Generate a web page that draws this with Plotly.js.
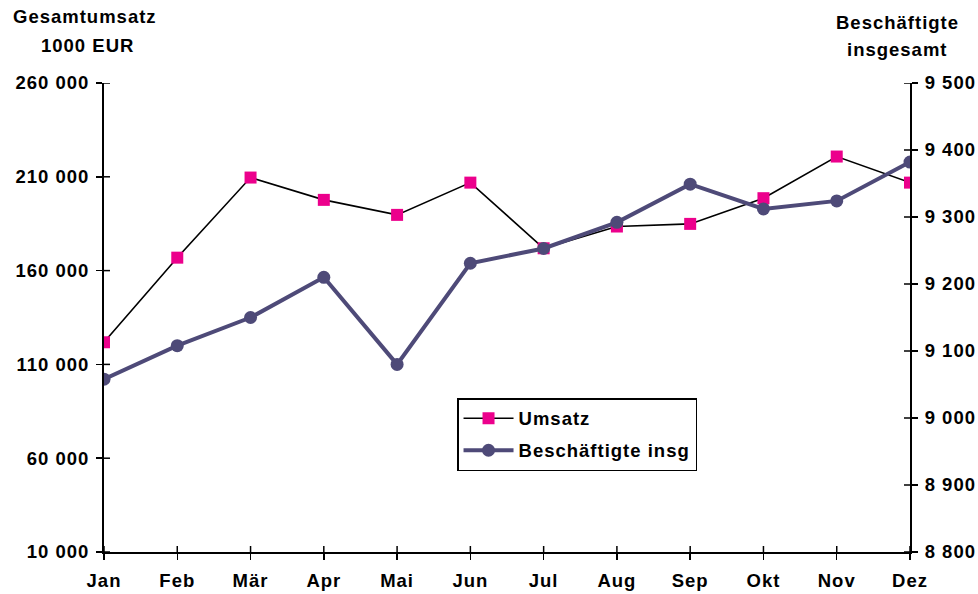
<!DOCTYPE html>
<html>
<head>
<meta charset="utf-8">
<script src="https://cdn.plot.ly/plotly-3.0.1.min.js"></script>
<style>
html,body{margin:0;padding:0;background:#fff;}
#chart{width:978px;height:594px;}
text{letter-spacing:1px;}
</style>
</head>
<body>
<div id="chart"></div>
<script>
const months = ["Jan","Feb","Mär","Apr","Mai","Jun","Jul","Aug","Sep","Okt","Nov","Dez"];
const umsatz = [121800,166900,209600,197700,189700,206900,171900,183500,184900,198600,220800,206900];
const beschaeftigte = [9058,9108,9150,9210,9080,9231,9253,9292,9349,9312,9324,9382];
const leftTicks = [10000,60000,110000,160000,210000,260000];
const rightTicks = [8800,8900,9000,9100,9200,9300,9400,9500];
const nameUmsatz = "Umsatz";
const nameBesch = "Beschäftigte insg";
const leftTitle = ["Gesamtumsatz", "1000 EUR"];
const rightTitle = ["Beschäftigte", "insgesamt"];

const F = {family: "Liberation Sans, Arial, sans-serif", size: 18.5, color: "#000", weight: 700};
const pink = "#EC008C";
const purple = "#4E4A78";

const traces = [
  {type:"scatter", mode:"lines+markers", name:nameUmsatz, x:months, y:umsatz,
   xaxis:"x", yaxis:"y", legendgroup:"a",
   line:{color:"#000", width:1.6},
   marker:{symbol:"square", size:12, color:pink, line:{width:0}}},
  {type:"scatter", mode:"lines+markers", name:nameBesch, x:months, y:beschaeftigte,
   xaxis:"x", yaxis:"y2", legendgroup:"b",
   line:{color:purple, width:4},
   marker:{symbol:"circle", size:13, color:purple}}
];

const axBase = {showgrid:false, zeroline:false, linecolor:"#000", linewidth:2, tickcolor:"#000", tickwidth:1.5, ticklen:6};

// inside halves of the crossing tick marks (6 px into the plot area)
const plotW = 978 - 104 - 68, plotH = 594 - 83 - 42;
const tx = 6 / plotW, ty = 6 / plotH;
const shapes = [];
const tk = {color:"#000", width:1.5};
months.forEach((m, i) => shapes.push({type:"line", xref:"x", yref:"paper", layer:"above",
  x0:i, x1:i, y0:0, y1:ty, line:tk}));
leftTicks.forEach(v => shapes.push({type:"line", xref:"paper", yref:"y", layer:"above",
  x0:0, x1:tx, y0:v, y1:v, line:tk}));
rightTicks.forEach(v => shapes.push({type:"line", xref:"paper", yref:"y2", layer:"above",
  x0:1 - tx, x1:1, y0:v, y1:v, line:tk}));

const layout = {
  width:978, height:594,
  margin:{l:104, r:68, t:83, b:42},
  paper_bgcolor:"#fff", plot_bgcolor:"#fff",
  separators:", ",
  font:F,
  showlegend:true,
  legend:{x:0.438, y:0.328, xanchor:"left", yanchor:"top", bordercolor:"#000", borderwidth:1.5,
          bgcolor:"#fff", font:F, traceorder:"grouped", tracegroupgap:5, itemwidth:50},
  xaxis:Object.assign({}, axBase, {type:"category", range:[0,11], ticks:"outside", showline:true,
          tickfont:F, ticklabelstandoff:5}),
  yaxis:Object.assign({}, axBase, {range:[10000,260000], tickvals:leftTicks, tickformat:",d",
          ticks:"outside", showline:true, tickfont:F, ticklabelstandoff:3}),
  yaxis2:Object.assign({}, axBase, {range:[8800,9500], tickvals:rightTicks, tickformat:",d",
          ticks:"outside", showline:true, side:"right", overlaying:"y", anchor:"x", tickfont:F, ticklabelstandoff:3}),
  shapes:shapes,
  annotations:[
    {xref:"paper", yref:"paper", x:-0.023, y:1.141, xanchor:"center", yanchor:"middle", showarrow:false,
     text:leftTitle[0], font:F},
    {xref:"paper", yref:"paper", x:-0.021, y:1.081, xanchor:"center", yanchor:"middle", showarrow:false,
     text:leftTitle[1], font:F},
    {xref:"paper", yref:"paper", x:0.984, y:1.128, xanchor:"center", yanchor:"middle", showarrow:false,
     text:rightTitle[0], font:F},
    {xref:"paper", yref:"paper", x:0.984, y:1.071, xanchor:"center", yanchor:"middle", showarrow:false,
     text:rightTitle[1], font:F}
  ]
};

Plotly.newPlot("chart", traces, layout, {displayModeBar:false, staticPlot:true});
</script>
</body>
</html>
